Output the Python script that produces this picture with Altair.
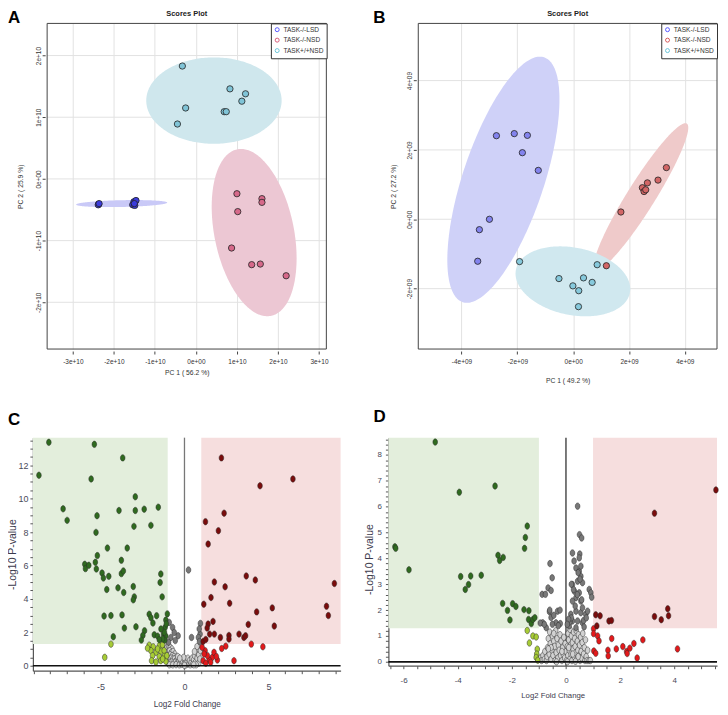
import altair as alt
import numpy as np
import pandas as pd

SANS = "Liberation Sans, Arial, sans-serif"
NARROW = "Liberation Sans Narrow, Arial Narrow, Liberation Sans, sans-serif"

GROUPS = ["TASK-/-LSD", "TASK-/-NSD", "TASK+/+NSD"]

# ---------------- Panel A : PCA scores (units of 1e10) ----------------
A_lsd_x = [-2.37, -2.38, -2.36, -1.51, -1.46, -1.54, -1.49, -1.50]
A_lsd_y = [-0.41, -0.42, -0.40, -0.37, -0.35, -0.42, -0.43, -0.40]
A_nsd_x = [1.00, 1.61, 1.61, 1.02, 0.87, 1.36, 1.57, 2.20]
A_nsd_y = [-0.24, -0.32, -0.38, -0.53, -1.12, -1.39, -1.38, -1.57]
A_wt_x = [-0.33, -0.25, -0.45, 0.83, 1.21, 1.12, 0.69, 0.74]
A_wt_y = [1.83, 1.15, 0.89, 1.46, 1.38, 1.26, 1.09, 1.09]
# confidence ellipses: centre x, centre y, semi-axis 1 (dx, dy), semi-axis 2 (dx, dy)
A_ell_lsd = [-1.81, -0.40, 1.11, 0.016, 0.0, 0.055]
A_ell_nsd = [1.42, -0.87, 0.41, -1.35, 0.95, 0.127]
A_ell_wt = [0.44, 1.27, 1.65, 0.0, 0.0, 0.70]
A_xticks = [-3, -2, -1, 0, 1, 2, 3]
A_yticks = [-2, -1, 0, 1, 2]

# ---------------- Panel B : PCA scores (units of 1e9) ----------------
B_lsd_x = [-2.75, -2.11, -1.64, -1.82, -1.25, -3.00, -3.36, -3.42]
B_lsd_y = [2.41, 2.47, 2.42, 1.92, 1.41, 0.00, -0.30, -1.21]
B_nsd_x = [1.71, 2.48, 2.54, 2.60, 2.66, 3.04, 3.34, 1.19]
B_nsd_y = [0.21, 0.91, 0.80, 0.85, 1.05, 1.13, 1.49, -1.34]
B_wt_x = [-1.92, -0.51, -0.01, 0.20, 0.37, 0.68, 0.86, 0.19]
B_wt_y = [-1.22, -1.71, -1.92, -2.06, -1.69, -1.82, -1.31, -2.52]
B_ell_lsd = [-2.50, 1.14, 1.46, 3.53, 1.38, -0.37]
B_ell_nsd = [2.43, 0.65, 1.64, 2.11, 0.425, -0.21]
B_ell_wt = [-0.01, -1.79, 2.04, -0.34, -0.25, -0.95]
B_xticks = [-4, -2, 0, 2, 4]
B_yticks = [-2, 0, 2, 4]

# ---------------- Panel C : volcano (x = log2 FC, y = -log10 p) ----------------
C_down = [(-8.08, 13.37), (-8.67, 11.40), (-5.37, 13.25), (-3.68, 12.44), (-5.56, 11.18), (-2.93, 10.11),
          (-7.23, 9.39), (-6.99, 8.70), (-5.21, 8.98), (-5.27, 7.98), (-3.90, 9.29), (-2.93, 9.29),
          (-2.40, 9.37), (-1.56, 9.49), (-3.01, 8.34), (-2.00, 8.40), (-4.59, 7.04), (-3.41, 7.04),
          (-5.19, 6.59), (-3.76, 6.31), (-5.94, 6.07), (-5.90, 5.81), (-5.70, 6.01), (-5.31, 6.19),
          (-5.25, 5.79), (-4.91, 5.55), (-4.83, 5.25), (-4.51, 5.35), (-3.76, 5.51), (-3.64, 5.67),
          (-1.41, 5.49), (-1.45, 4.98), (-4.63, 4.56), (-3.96, 4.66), (-3.62, 4.38), (-3.05, 4.74),
          (-2.99, 4.12), (-3.05, 3.94), (-1.33, 4.12), (-4.79, 2.97), (-4.38, 3.00), (-3.72, 3.04),
          (-3.58, 2.25), (-2.89, 2.33), (-4.24, 1.73), (-2.10, 3.08), (-2.00, 2.87), (-1.88, 2.55),
          (-1.66, 2.99), (-1.02, 3.10), (-1.11, 2.73), (-2.38, 2.09), (-2.48, 1.81), (-2.57, 1.53),
          (-1.80, 1.85), (-1.60, 1.77), (-1.25, 1.89), (-1.11, 1.77), (-1.17, 1.53), (-1.15, 2.30),
          (-1.20, 2.00), (-1.08, 2.50), (-1.30, 1.60), (-1.50, 1.55), (-1.40, 2.20)]
C_fcdown = [(-4.38, 1.29), (-4.75, 0.50), (-2.10, 1.23), (-1.86, 1.13), (-1.50, 1.19), (-1.31, 1.25),
            (-2.00, 0.90), (-1.70, 0.80), (-1.41, 0.86), (-1.21, 0.90), (-1.90, 0.60), (-1.50, 0.54),
            (-1.21, 0.56), (-1.96, 0.30), (-1.70, 0.22), (-1.41, 0.30), (-1.11, 0.26), (-1.05, 0.60),
            (-2.20, 1.05), (-1.60, 1.00), (-1.30, 0.40)]
C_sig = [(-0.91, 2.59), (-0.71, 2.29), (-0.38, 1.79), (-0.81, 1.69), (-0.61, 1.99), (0.24, 5.73),
         (0.42, 1.69), (0.95, 2.53), (0.93, 1.89), (0.83, 1.69), (0.88, 2.20), (0.90, 1.45),
         (-0.95, 1.40), (-0.55, 1.50)]
C_ns = [(-1.15, 0.95), (-1.05, 1.10), (-0.95, 1.20), (-0.85, 1.10), (-0.75, 1.00), (-1.10, 0.75),
        (-0.98, 0.85), (-0.88, 0.90), (-0.78, 0.80), (-0.68, 0.85), (-0.58, 0.70), (-1.05, 0.55),
        (-0.95, 0.60), (-0.85, 0.65), (-0.72, 0.60), (-0.62, 0.55), (-0.50, 0.50), (-1.00, 0.35),
        (-0.90, 0.40), (-0.80, 0.45), (-0.70, 0.38), (-0.60, 0.40), (-0.48, 0.32), (-0.38, 0.35),
        (-0.95, 0.15), (-0.85, 0.20), (-0.75, 0.22), (-0.65, 0.18), (-0.55, 0.20), (-0.45, 0.15),
        (-0.35, 0.20), (-0.25, 0.18), (-0.90, 0.05), (-0.70, 0.05), (-0.50, 0.06), (-0.30, 0.05),
        (-0.15, 0.08), (-0.20, 0.30), (-0.10, 0.25), (0.00, 0.15), (0.05, 0.35), (0.10, 0.05),
        (0.15, 0.20), (0.20, 0.45), (0.25, 0.10), (-0.05, 0.50), (0.30, 0.30), (0.35, 0.05),
        (0.00, 0.02), (0.40, 0.20), (0.45, 0.45), (0.50, 0.10), (0.55, 0.35), (0.60, 0.60),
        (0.65, 0.20), (0.70, 0.80), (0.75, 0.45), (0.80, 1.00), (0.85, 0.15), (0.85, 0.65),
        (0.90, 1.20), (0.92, 0.40), (0.95, 0.90), (0.70, 0.05), (0.55, 0.05), (-0.40, 0.55),
        (-0.28, 0.45), (0.60, 0.85), (0.75, 1.15)]
C_up = [(2.20, 12.44), (6.46, 11.18), (4.50, 10.77), (2.36, 9.13), (1.25, 8.62), (2.02, 8.08),
        (1.41, 7.28), (3.68, 5.37), (4.22, 5.13), (1.78, 5.01), (2.42, 4.72), (8.93, 4.92),
        (1.58, 4.08), (1.15, 3.68), (2.69, 3.74), (8.46, 3.56), (8.57, 3.00), (5.23, 3.46),
        (4.30, 3.22), (5.35, 2.37), (3.80, 2.47), (1.41, 2.49), (1.35, 2.25), (1.70, 2.65),
        (1.50, 1.89), (1.78, 1.89), (2.14, 1.69), (2.65, 1.81), (2.65, 1.59), (3.25, 1.89),
        (3.54, 1.69), (3.64, 1.79), (1.11, 1.45), (1.27, 1.57)]
C_fcup = [(3.98, 1.29), (4.67, 1.13), (2.46, 1.17), (2.22, 1.03), (2.95, 0.30), (1.96, 0.34),
          (1.66, 0.50), (1.47, 0.34), (1.76, 0.80), (1.23, 0.90), (1.37, 0.60), (1.11, 0.30),
          (1.27, 0.14), (1.56, 0.20), (1.17, 0.70), (1.05, 1.10), (1.90, 0.55)]
C_xticks = list(range(-9, 10))
C_xlabels = [-5, 0, 5]
C_yticks = [v / 2 for v in range(0, 28)]
C_ylabels = [0, 2, 4, 6, 8, 10, 12]

# ---------------- Panel D : volcano ----------------
D_down = [(-4.83, 8.50), (-3.94, 6.56), (-2.62, 6.80), (-6.32, 4.45), (-6.29, 4.39), (-5.80, 3.56),
          (-3.89, 3.30), (-3.52, 3.32), (-3.13, 3.35), (-3.60, 2.99), (-3.72, 2.80), (-2.51, 4.12),
          (-2.45, 3.92), (-2.32, 4.04), (-1.43, 5.25), (-1.50, 4.81), (-1.53, 4.39), (-2.34, 2.26),
          (-2.16, 1.99), (-1.97, 2.25), (-1.85, 2.14), (-2.07, 1.62), (-1.55, 2.02), (-1.37, 1.98),
          (-1.38, 1.64), (-1.28, 1.48), (-1.22, 1.64), (-1.15, 1.71)]
D_fcdown = [(-1.43, 1.21), (-1.35, 0.73), (-1.22, 1.00), (-1.10, 0.96), (-1.06, 0.49), (-1.08, 0.30),
            (-1.10, 0.17), (-1.04, 0.06)]
D_sig = [(0.43, 6.02), (0.50, 4.92), (0.58, 4.79), (0.24, 4.21), (0.51, 4.17), (0.49, 4.02),
         (-0.59, 3.80), (-0.51, 3.25), (-0.66, 2.86), (-0.55, 2.76), (-0.88, 2.61), (-0.76, 2.61),
         (0.24, 2.99), (0.37, 3.63), (0.49, 3.50), (0.55, 3.31), (0.43, 3.12), (0.61, 3.06),
         (0.31, 2.73), (0.49, 2.67), (0.37, 2.48), (0.55, 2.35), (0.86, 2.80), (0.92, 2.67),
         (0.95, 2.50), (-0.61, 1.94), (-0.31, 1.96), (-0.22, 2.00), (-0.55, 1.71), (-0.86, 1.51),
         (-0.73, 1.32), (-0.37, 1.51), (-0.21, 1.48), (0.18, 1.84), (0.37, 1.96), (0.55, 1.90),
         (0.73, 1.84), (0.80, 1.96), (0.24, 1.58), (0.43, 1.58), (0.61, 1.51), (0.12, 1.39),
         (0.37, 1.32), (0.67, 1.35), (0.34, 2.16), (0.61, 2.09), (0.24, 2.35), (0.15, 1.55),
         (0.20, 1.70), (0.28, 2.80), (0.45, 3.45), (0.52, 3.20), (0.58, 2.40), (0.42, 2.60),
         (-0.95, 1.50), (-0.45, 1.80), (-0.28, 1.40), (-0.50, 1.45), (-0.80, 1.45), (-0.60, 2.00),
         (0.30, 3.90), (0.55, 3.70), (0.20, 3.00), (0.10, 1.65), (0.65, 1.60), (0.75, 1.70),
         (0.05, 1.45)]
D_ns = [(-0.95, 0.15), (-0.90, 0.05), (-0.85, 0.25), (-0.80, 0.10), (-0.78, 0.40), (-0.72, 0.05),
        (-0.70, 0.20), (-0.68, 0.55), (-0.65, 0.90), (-0.62, 0.30), (-0.60, 1.15), (-0.58, 0.70),
        (-0.55, 0.10), (-0.52, 0.45), (-0.50, 1.00), (-0.48, 0.25), (-0.45, 0.80), (-0.42, 0.60),
        (-0.40, 0.05), (-0.38, 1.20), (-0.36, 0.35), (-0.33, 0.90), (-0.30, 0.15), (-0.28, 0.65),
        (-0.25, 0.45), (-0.22, 1.05), (-0.20, 0.25), (-0.18, 0.80), (-0.15, 0.05), (-0.12, 0.55),
        (-0.10, 0.30), (-0.08, 0.95), (-0.05, 0.15), (-0.03, 0.70), (0.00, 0.40), (0.02, 0.05),
        (0.05, 0.60), (0.07, 0.25), (0.08, 1.10), (0.10, 0.85), (0.12, 0.45), (0.14, 0.10),
        (0.15, 1.25), (0.17, 0.65), (0.19, 0.30), (0.20, 1.00), (0.22, 0.05), (0.24, 0.75),
        (0.26, 0.50), (0.28, 1.15), (0.30, 0.20), (0.32, 0.90), (0.34, 0.60), (0.36, 0.35),
        (0.38, 1.20), (0.40, 0.10), (0.42, 0.80), (0.44, 0.45), (0.46, 1.05), (0.48, 0.25),
        (0.50, 0.65), (0.52, 0.05), (0.54, 0.95), (0.56, 0.40), (0.58, 0.15), (0.60, 0.75),
        (0.62, 1.10), (0.65, 0.30), (0.68, 0.55), (0.70, 0.05), (0.72, 0.85), (0.75, 0.20),
        (0.78, 0.05), (0.80, 0.45), (0.85, 0.05), (0.90, 0.05), (-0.55, 0.55), (-0.35, 0.00),
        (0.05, 0.00), (0.35, 0.02), (-0.65, 0.50), (-0.45, 1.10), (0.25, 0.30), (0.45, 0.20),
        (-0.15, 0.40), (0.10, 0.55)]
D_up = [(5.54, 6.65), (3.27, 5.75), (3.76, 2.05), (3.79, 1.78), (3.27, 1.75), (3.52, 1.63),
        (1.10, 1.82), (1.26, 1.78), (1.59, 1.58), (1.68, 1.60), (1.14, 1.39)]
D_fcup = [(1.02, 1.28), (1.02, 1.09), (1.17, 1.00), (1.22, 0.81), (1.69, 0.90), (1.03, 0.42),
          (1.10, 0.33), (1.55, 0.45), (1.56, 0.23), (1.86, 0.50), (2.10, 0.59), (2.24, 0.40),
          (2.26, 0.32), (2.36, 0.53), (2.51, 0.71), (2.84, 0.85), (2.63, 0.15), (4.12, 0.50)]
D_xticks = [v / 2 for v in range(-13, 12)]
D_xlabels = [-6, -4, -2, 0, 2, 4]
D_yticks = [round(v * 0.2, 1) for v in range(0, 44)]
D_ylabels = [0, 1, 2, 3, 4, 5, 6, 7, 8]

P_THRESH = 1.3
FC_THRESH = 1.0

CAT_COLORS = {"ns": "#d2d2d2", "sig": "#787878", "down": "#2f6a1f", "fcdown": "#a7cc36",
              "up": "#7a0c0c", "fcup": "#e3191b"}


def ellipse_df(p, unit):
    cx, cy, ax, ay, bx, by = p
    R = np.hypot(ax, bx)
    phi = np.arctan2(bx, ax)
    s = np.linspace(0, np.pi, 121)
    t1, t2 = phi + s, phi - s
    x = cx + R * np.cos(s)
    y1 = cy + ay * np.cos(t1) + by * np.sin(t1)
    y2 = cy + ay * np.cos(t2) + by * np.sin(t2)
    return pd.DataFrame({"x": x * unit, "y": y1 * unit, "y2": y2 * unit})


def scores_panel(xy, ells, ptfill, ellfill, legcol, unit, exp, xdom, frame_left, ydom, xticks,
                 yticks, w, h, xtitle, ytitle, letter, letter_dx, xtitle_y, ytitle_x):
    rows = []
    for g in GROUPS:
        xs, ys = xy[g]
        for a, b in zip(xs, ys):
            rows.append({"x": a * unit, "y": b * unit, "group": g, "fill": ptfill[g]})
    df = pd.DataFrame(rows)
    # pixel position of the visible frame's left edge inside the plot area
    frame_px = (frame_left - xdom[0]) / (xdom[1] - xdom[0]) * w
    lab = f"datum.value == 0 ? '0e+00' : (datum.value / {unit:g}) + 'e+{exp}'"
    common = dict(tickColor="#444", tickSize=3, labelFont=SANS, labelFontSize=6.5,
                  labelColor="#333", labelOverlap=False, labelFlush=False, titleFont=SANS,
                  titleFontSize=6.8, titleFontWeight="normal", titleColor="#333", labelExpr=lab,
                  domain=False)
    xaxis = alt.Axis(values=[v * unit for v in xticks], title=xtitle, labelPadding=5,
                     grid=True, gridColor="#e2e2e2", gridWidth=1, offset=2,
                     titleX=frame_px + (w - frame_px) / 2, titleY=xtitle_y, titleAlign="center",
                     titleBaseline="middle", **common)
    yaxis = alt.Axis(values=[v * unit for v in yticks], title=ytitle, labelAngle=270,
                     labelAlign="center", labelBaseline="bottom", labelPadding=1,
                     grid=False, offset=2 - frame_px,
                     titleAngle=270, titleX=ytitle_x, titleY=h / 2, titleAlign="center",
                     titleBaseline="middle", **common)
    xe = alt.X("x:Q", scale=alt.Scale(domain=[v * unit for v in xdom], nice=False, zero=False), axis=xaxis)
    ye = alt.Y("y:Q", scale=alt.Scale(domain=[v * unit for v in ydom], nice=False, zero=False), axis=yaxis)
    grid_df = pd.DataFrame({"y": [v * unit for v in yticks], "x": frame_left * unit,
                            "x2": xdom[1] * unit})
    frame_df = pd.DataFrame({"x": [frame_left * unit], "x2": [xdom[1] * unit],
                             "y": [ydom[0] * unit], "y2": [ydom[1] * unit]})
    layers = [alt.Chart(grid_df).mark_rule(color="#e2e2e2", strokeWidth=1).encode(
        x=xe, x2="x2:Q", y=ye)]
    for g in GROUPS:
        layers.append(alt.Chart(ellipse_df(ells[g], unit)).mark_area(
            color=ellfill[g], opacity=1, clip=True).encode(x=xe, y=ye, y2="y2:Q"))
    layers.append(alt.Chart(df).mark_point(filled=False, size=14, strokeWidth=1, opacity=1).encode(
        x=xe, y=ye,
        stroke=alt.Stroke("group:N", scale=alt.Scale(domain=GROUPS, range=legcol),
                          legend=alt.Legend(orient="top-right", offset=0, title=None,
                                            strokeColor="#333", fillColor="white", padding=3,
                                            labelFont=SANS, labelFontSize=6.6, labelColor="#333",
                                            symbolType="circle", symbolSize=16,
                                            symbolStrokeWidth=1, rowPadding=1.5, labelOffset=3,
                                            cornerRadius=0))))
    layers.append(alt.Chart(df).mark_point(filled=True, shape="circle", size=40, stroke="#222",
                                           strokeWidth=0.8, opacity=1).encode(
        x=xe, y=ye, fill=alt.Fill("fill:N", scale=None)))
    layers.append(alt.Chart(frame_df).mark_rect(fillOpacity=0, stroke="#444", strokeWidth=1).encode(
        x=xe, x2="x2:Q", y=ye, y2="y2:Q"))
    layers.append(alt.Chart(pd.DataFrame({"t": ["Scores Plot"]})).mark_text(
        font=SANS, fontSize=7.5, fontWeight="bold", color="#222", align="center",
        baseline="middle").encode(text="t:N", x=alt.value(frame_px + (w - frame_px) / 2),
                                  y=alt.value(-9)))
    layers.append(alt.Chart(pd.DataFrame({"t": [letter]})).mark_text(
        font=SANS, fontSize=17, fontWeight="bold", color="#000", align="left",
        baseline="top").encode(text="t:N", x=alt.value(letter_dx), y=alt.value(-13)))
    return alt.layer(*layers).properties(width=w, height=h)


ELLIPSE = ("M0,-1 C0.398,-1 0.72,-0.552 0.72,0 C0.72,0.552 0.398,1 0,1 "
           "C-0.398,1 -0.72,0.552 -0.72,0 C-0.72,-0.552 -0.398,-1 0,-1 Z")


def volcano_panel(cats, xdom, ydom, xticks, xlabels, yticks, ylabels, w, h, letter, letter_dx,
                  letter_dy, xlab_pad, ylab_pad, xtitle_y, ytitle_x, ytitle_y, vcolor, lab_size,
                  xt_size):
    rows = []
    for name in ["ns", "sig", "fcdown", "fcup", "down", "up"]:
        for a, b in cats[name]:
            rows.append({"x": a, "y": b, "fill": CAT_COLORS[name]})
    df = pd.DataFrame(rows)
    rects = pd.DataFrame({"x": [xdom[0], FC_THRESH], "x2": [-FC_THRESH, xdom[1]],
                          "y": [P_THRESH, P_THRESH], "y2": [ydom[1], ydom[1]],
                          "c": ["#e3eedc", "#f6dede"]})
    xl = "[" + ",".join(str(v) for v in xlabels) + "]"
    yl = "[" + ",".join(str(v) for v in ylabels) + "]"
    common = dict(grid=False, domain=True, domainColor="#555", domainWidth=1.2, ticks=True,
                  tickColor="#555", tickSize=3, labelFont=NARROW, labelFontSize=lab_size,
                  labelColor="#4a4a5a", labelOverlap=False, labelFlush=False, titleFont=NARROW,
                  titleFontWeight="normal", titleColor="#3c3a4c",
                  titleAlign="center", titleBaseline="middle")
    xaxis = alt.Axis(values=xticks, labelExpr=f"indexof({xl}, datum.value) >= 0 ? '' + datum.value : ''",
                     labelPadding=xlab_pad, title="Log2 Fold Change", titleX=w / 2, titleY=xtitle_y,
                     titleFontSize=xt_size, **common)
    yaxis = alt.Axis(values=yticks,
                     labelExpr=f"indexof({yl}, datum.value) >= 0 ? '' + datum.value : ''",
                     labelPadding=ylab_pad, title="-Log10 P-value", titleAngle=270,
                     titleX=ytitle_x, titleY=ytitle_y, titleFontSize=10.5, **common)
    xs = alt.Scale(domain=xdom, nice=False, zero=False)
    ys = alt.Scale(domain=ydom, nice=False, zero=False)
    layers = [
        alt.Chart(rects).mark_rect(opacity=1).encode(
            x=alt.X("x:Q", scale=xs, axis=xaxis), x2="x2:Q",
            y=alt.Y("y:Q", scale=ys, axis=yaxis), y2="y2:Q", fill=alt.Fill("c:N", scale=None)),
        alt.Chart(pd.DataFrame({"x": [0]})).mark_rule(color=vcolor, strokeWidth=1.3).encode(
            x=alt.X("x:Q", scale=xs, axis=xaxis)),
        alt.Chart(df).mark_point(filled=True, shape=ELLIPSE, size=42, stroke="#2a2a2a",
                                 strokeWidth=0.5, opacity=1).encode(
            x=alt.X("x:Q", scale=xs, axis=xaxis), y=alt.Y("y:Q", scale=ys, axis=yaxis),
            fill=alt.Fill("fill:N", scale=None)),
        alt.Chart(pd.DataFrame({"y": [0]})).mark_rule(color="#111", strokeWidth=1.6).encode(
            y=alt.Y("y:Q", scale=ys, axis=yaxis)),
        alt.Chart(pd.DataFrame({"t": [letter]})).mark_text(
            font=SANS, fontSize=17, fontWeight="bold", color="#000", align="left",
            baseline="top").encode(text="t:N", x=alt.value(letter_dx), y=alt.value(letter_dy)),
    ]
    return alt.layer(*layers).properties(width=w, height=h)


# A: plot area starts 14.3 px left of the visible frame so that its origin lines up with C's
A = scores_panel(
    {"TASK-/-LSD": (A_lsd_x, A_lsd_y), "TASK-/-NSD": (A_nsd_x, A_nsd_y), "TASK+/+NSD": (A_wt_x, A_wt_y)},
    {"TASK-/-LSD": A_ell_lsd, "TASK-/-NSD": A_ell_nsd, "TASK+/+NSD": A_ell_wt},
    {"TASK-/-LSD": "#3b3bdc", "TASK-/-NSD": "#d6698a", "TASK+/+NSD": "#80c4d7"},
    {"TASK-/-LSD": "#c9c9f7", "TASK-/-NSD": "#ecc7d3", "TASK+/+NSD": "#cfe7ed"},
    ["#5a5aff", "#d65a78", "#6cc4d8"], 1e10, "10",
    [-3.973, 3.180], -3.626, [-2.758, 2.521], A_xticks, A_yticks, 294.7, 327,
    "PC 1 ( 56.2 %)", "PC 2 ( 25.9 %)", "A", -25, 22, -24.3)

B = scores_panel(
    {"TASK-/-LSD": (B_lsd_x, B_lsd_y), "TASK-/-NSD": (B_nsd_x, B_nsd_y), "TASK+/+NSD": (B_wt_x, B_wt_y)},
    {"TASK-/-LSD": B_ell_lsd, "TASK-/-NSD": B_ell_nsd, "TASK+/+NSD": B_ell_wt},
    {"TASK-/-LSD": "#8383ee", "TASK-/-NSD": "#d26666", "TASK+/+NSD": "#86c9dc"},
    {"TASK-/-LSD": "#cfd1f8", "TASK-/-NSD": "#efcaca", "TASK+/+NSD": "#d0e8ef"},
    ["#5a5aff", "#d65a5a", "#6cc4d8"], 1e9, "09",
    [-5.55, 5.154], -5.55, [-3.742, 5.648], B_xticks, B_yticks, 300, 327,
    "PC 1 ( 49.2 %)", "PC 2 ( 27.2 %)", "B", -45.3, 30, -23)

C = volcano_panel(
    {"ns": C_ns, "sig": C_sig, "fcdown": C_fcdown, "fcup": C_fcup, "down": C_down, "up": C_up},
    [-9.03, 9.3], [-0.3, 13.65], C_xticks, C_xlabels, C_yticks, C_ylabels, 309, 234,
    "C", -25, -26, 9, 2, 34, -20, 117, "#777", 9, 8.2)

D = volcano_panel(
    {"ns": D_ns, "sig": D_sig, "fcdown": D_fcdown, "fcup": D_fcup, "down": D_down, "up": D_up},
    [-6.56, 5.58], [-0.15, 8.67], D_xticks, D_xlabels, D_yticks, D_ylabels, 330, 229,
    "D", -15, -29, 8, 4, 30, -19, 122, "#333", 8, 7.8)

top = (alt.concat(A, B, columns=2, align="none", spacing=44)
       .resolve_scale(stroke="independent").resolve_legend(stroke="independent"))
bottom = alt.concat(C, D, columns=2, align="none", spacing=23)
chart = (alt.concat(top, bottom, columns=1, align="none", spacing=23)
         .resolve_scale(stroke="independent").resolve_legend(stroke="independent")
         .properties(padding=0).configure_view(stroke=None))

chart.save("out.html", embed_options={"renderer": "svg", "actions": False})
